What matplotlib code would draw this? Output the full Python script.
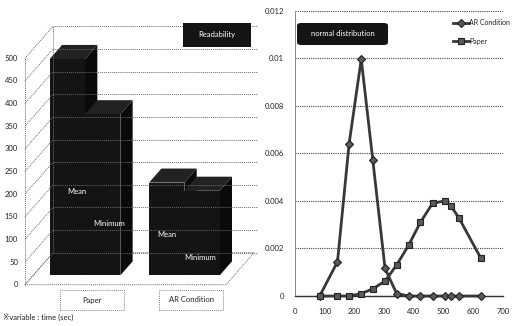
import matplotlib
matplotlib.use("Agg")
import matplotlib.pyplot as plt
from matplotlib.patches import Polygon, Rectangle, FancyBboxPatch

plt.rcParams["font.family"] = ["Lato", "DejaVu Sans"]

# ---- reading time per condition (seconds) ----
groups = ["Paper", "AR Condition"]
series = ["Mean", "Minimum"]
mean_time = [478, 205]
min_time = [356, 187]
value_ticks = [0, 50, 100, 150, 200, 250, 300, 350, 400, 450, 500]

# ---- normal distribution of the reading time ----
times = [83, 143, 182, 223, 262, 303, 342, 383, 422, 463, 505, 524, 551, 625]
ar_density = [0.0, 0.00144, 0.0064, 0.00996, 0.0057, 0.00116, 0.0001,
              0.0, 0.0, 0.0, 0.0, 0.0, 0.0, 0.0]
paper_density = [0.0, 0.0, 0.0, 0.0001, 0.0003, 0.00063, 0.0013,
                 0.00215, 0.0031, 0.0039, 0.0040, 0.0038, 0.0033, 0.0016]
density_ticks = [0, 0.002, 0.004, 0.006, 0.008, 0.01, 0.012]
density_labels = ["0", "0.002", "0.004", "0.006", "0.008", "0.01", "0.012"]
time_ticks = [0, 100, 200, 300, 400, 500, 600, 700]

W, H = 512, 326
fig = plt.figure(figsize=(W / 100, H / 100), dpi=100)
fig.patch.set_facecolor("white")

DARK = "#141414"
GRID = "#6a6a6a"
TXT = "#222222"
FS = 5.5

# =====================  left: pseudo-3D column chart  =====================
axL = fig.add_axes([0, 0, 258 / W, 1])
axL.set_axis_off()
PX_X = 99.35          # pixels per category step
PX_Y = 0.4527         # pixels per second
BASE = 284.7          # pixel row of the front floor edge
ORIGIN = 76.9         # pixel column of the first cluster centre
axL.set_xlim(-ORIGIN / PX_X, (258 - ORIGIN) / PX_X)
axL.set_ylim(-(H - BASE) / PX_Y, BASE / PX_Y)

DX, DY = 28 / PX_X, 32 / PX_Y   # full depth of the chart box


def P(x, v, z):
    """Oblique projection of (category x, value v, depth z)."""
    return (x + DX * z, v + DY * z)


x_left = (25 - ORIGIN) / PX_X
x_right = (226 - ORIGIN) / PX_X
top = value_ticks[-1]
wall_kw = dict(color=GRID, lw=0.7, ls=(0, (1, 1)))

# floor
floor = [P(x_left, 0, 0), P(x_right, 0, 0), P(x_right, 0, 1), P(x_left, 0, 1)]
axL.add_patch(Polygon(floor, closed=True, fill=False, ec=GRID, lw=0.7,
                      ls=(0, (1, 1))))
# walls and grid
for v in value_ticks:
    a, b = P(x_left, v, 0), P(x_left, v, 1)
    axL.plot([a[0], b[0]], [a[1], b[1]], **wall_kw)
    c = P(x_right + 0.04, v, 1)
    axL.plot([b[0], c[0]], [b[1], c[1]], **wall_kw)
    axL.text(a[0] - 7 / PX_X, a[1], str(v), ha="right", va="center",
             fontsize=FS, color=TXT)
for z in (0, 1):
    a, b = P(x_left, 0, z), P(x_left, top, z)
    axL.plot([a[0], b[0]], [a[1], b[1]], **wall_kw)

# columns
bar_w = 35.3 / PX_X
z0, z1 = 0.29, 0.73
label_pos = {("Paper", "Mean"): (0.0, 205), ("Paper", "Minimum"): (0.33, 135),
             ("AR Condition", "Mean"): (-0.1, 110),
             ("AR Condition", "Minimum"): (0.24, 60)}
for gi, g in enumerate(groups):
    for si, (s, vals) in enumerate(zip(series, [mean_time, min_time])):
        v = vals[gi]
        xl = gi - bar_w + si * bar_w
        xr = xl + bar_w
        side = [P(xr, 0, z0), P(xr, 0, z1), P(xr, v, z1), P(xr, v, z0)]
        topf = [P(xl, v, z0), P(xr, v, z0), P(xr, v, z1), P(xl, v, z1)]
        front = [P(xl, 0, z0), P(xr, 0, z0), P(xr, v, z0), P(xl, v, z0)]
        axL.add_patch(Polygon(side, closed=True, fc="#0a0a0a", ec="none"))
        axL.add_patch(Polygon(topf, closed=True, fc="#222222", ec="none"))
        axL.add_patch(Polygon(front, closed=True, fc=DARK, ec="none"))
        dxl, vl = label_pos[(g, s)]
        axL.text(gi + dxl, vl, s, color="white", fontsize=FS,
                 ha="center", va="center")

# category boxes
for gi, g in enumerate(groups):
    cx = gi + 0.15
    bw, bh = 64 / PX_X, 20 / PX_Y
    vb = (BASE - 310) / PX_Y
    axL.add_patch(Rectangle((cx - bw / 2, vb), bw, bh, fill=False, ec="#888888",
                            lw=0.7, ls=(0, (1, 1))))
    axL.text(cx, vb + bh / 2, g, ha="center", va="center", fontsize=FS,
             color=TXT)

# title box
fig.patches.append(Rectangle((183 / W, 1 - 47 / H), 68 / W, 24 / H,
                             transform=fig.transFigure, fc=DARK, ec="none"))
fig.text(217 / W, 1 - 35 / H, "Readability", color="white", fontsize=FS,
         ha="center", va="center")
fig.text(3 / W, 1 - 317 / H, "※variable : time (sec)", fontsize=FS,
         color=TXT, ha="left", va="center")

# =====================  right: distribution lines  =====================
axR = fig.add_axes([295 / W, 30 / H, 208 / W, 285.3 / H])
axR.set_xlim(0, 700)
axR.set_ylim(0, 0.012)
axR.set_yticks(density_ticks)
axR.set_yticklabels(density_labels)
axR.set_xticks(time_ticks)
axR.set_xticklabels([str(t) for t in time_ticks])
axR.tick_params(length=0, labelsize=FS, colors=TXT)
axR.tick_params(axis="y", pad=8)
axR.tick_params(axis="x", pad=9)
axR.grid(axis="y", color="#444444", lw=0.8, ls=(0, (1, 1)))
axR.set_axisbelow(True)
for side_name in ("top", "right"):
    axR.spines[side_name].set_visible(False)
axR.spines["left"].set_color("#888888")
axR.spines["left"].set_linestyle((0, (1, 1)))
axR.spines["left"].set_linewidth(0.7)
axR.spines["bottom"].set_color("#333333")
axR.spines["bottom"].set_linewidth(1.0)

LINE = "#383838"
axR.plot(times, ar_density, color=LINE, lw=2.0, marker="D", ms=4,
         mfc="#5a5a5a", mec="#222222", mew=0.8, label="AR Condition",
         clip_on=False, zorder=3)
axR.plot(times, paper_density, color=LINE, lw=2.0, marker="s", ms=5,
         mfc="#5a5a5a", mec="#222222", mew=0.8, label="Paper",
         clip_on=False, zorder=3)

leg = axR.legend(loc="upper left", bbox_to_anchor=(450 / W, 1 - 16 / H),
                 bbox_transform=fig.transFigure, frameon=False,
                 fontsize=5, handlelength=2.2, handletextpad=0.1,
                 labelspacing=1.6, borderpad=0)
for t in leg.get_texts():
    t.set_color(TXT)

fig.patches.append(FancyBboxPatch((297 / W, 1 - 45 / H), 91 / W, 22 / H,
                                  boxstyle="round,pad=0,rounding_size=0.008",
                                  transform=fig.transFigure, fc=DARK,
                                  ec="none"))
fig.text(342.5 / W, 1 - 34 / H, "normal distribution", color="white",
         fontsize=FS, ha="center", va="center")

fig.savefig("out.png", dpi=100, facecolor="white")
